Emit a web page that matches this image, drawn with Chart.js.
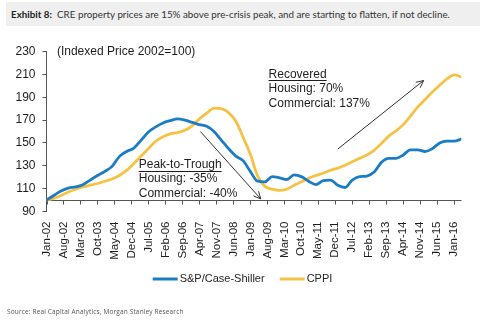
<!DOCTYPE html>
<html>
<head>
<meta charset="utf-8">
<script src="https://cdn.jsdelivr.net/npm/chart.js@4.4.0/dist/chart.umd.min.js"></script>
<style>
  html, body { margin: 0; padding: 0; background: #fff; }
  #wrap { position: relative; width: 488px; height: 321px; overflow: hidden; }
  canvas { position: absolute; left: 0; top: 0; }
  #banner {
    position: absolute; left: 6px; top: 2px; width: 474px; height: 24px;
    background: #efefef; color: #333; font: 9.8px Lato, sans-serif;
    line-height: 24px; padding-left: 5px; box-sizing: border-box; white-space: nowrap;
  }
  #banner b { color: #222; }
  #source {
    position: absolute; left: 7px; top: 307px; font: 6.5px "Open Sans", sans-serif;
    color: #555; letter-spacing: .15px; white-space: nowrap;
  }
</style>
</head>
<body>
<div id="wrap">
  <canvas id="chart" width="488" height="321"></canvas>
  <div id="banner"><b>Exhibit 8:</b>&nbsp; CRE property prices are 15% above pre-crisis peak, and are starting to flatten, if not decline.</div>
  <div id="source">Source: Real Capital Analytics, Morgan Stanley Research</div>
</div>
<script>
// quarterly readings, indexed 2002 = 100
const dates = [
  'Jan-02', 'Apr-02', 'Jul-02', 'Oct-02', 'Jan-03', 'Apr-03', 'Jul-03', 'Oct-03',
  'Jan-04', 'Apr-04', 'Jul-04', 'Oct-04', 'Jan-05', 'Apr-05', 'Jul-05', 'Oct-05',
  'Jan-06', 'Apr-06', 'Jul-06', 'Oct-06', 'Jan-07', 'Apr-07', 'Jul-07', 'Oct-07',
  'Jan-08', 'Apr-08', 'Jul-08', 'Oct-08', 'Jan-09', 'Apr-09', 'Jul-09', 'Oct-09',
  'Jan-10', 'Apr-10', 'Jul-10', 'Oct-10', 'Jan-11', 'Apr-11', 'Jul-11', 'Oct-11',
  'Jan-12', 'Apr-12', 'Jul-12', 'Oct-12', 'Jan-13', 'Apr-13', 'Jul-13', 'Oct-13',
  'Jan-14', 'Apr-14', 'Jul-14', 'Oct-14', 'Jan-15', 'Apr-15', 'Jul-15', 'Oct-15',
  'Jan-16', 'Apr-16'
];

const caseShiller = [
  100, 104, 108, 110.5, 111.5, 113.5, 117.5, 121.5,
  125, 129.5, 138, 142.5, 145.5, 152.5, 159.5, 164,
  167.5, 169.5, 171, 170, 168, 166, 164.5, 160,
  152.5, 145, 138.5, 134.5, 125, 116.5, 116, 120.5,
  119.5, 118, 122, 120.5, 116.5, 113.5, 117, 117.5,
  113, 111, 117.5, 120.5, 121, 124.5, 133, 136.5,
  136.5, 139.5, 144, 144, 142.5, 145, 150, 151.5,
  151.5, 153.5
];

const cppi = [
  100, 101.5, 104, 107, 109.5, 111.5, 113, 114.5,
  116.5, 118.5, 121.5, 126, 132, 138.5, 145, 151.5,
  155.5, 158, 159, 161, 165, 171, 176, 180.5,
  180, 176.5, 169, 155, 140, 121, 112, 109.5,
  108.5, 109.5, 113, 116, 119, 121.5, 123.5, 126,
  128, 130.5, 133.5, 136.5, 139.5, 143.5, 149.5, 156,
  160.5, 166, 173.5, 181.5, 188, 194.5, 200.5, 206,
  209.5, 207.5
];

const tickLabels = [
  'Jan-02', 'Aug-02', 'Mar-03', 'Oct-03', 'May-04', 'Dec-04', 'Jul-05', 'Feb-06',
  'Sep-06', 'Apr-07', 'Nov-07', 'Jun-08', 'Jan-09', 'Aug-09', 'Mar-10', 'Oct-10',
  'May-11', 'Dec-11', 'Jul-12', 'Feb-13', 'Sep-13', 'Apr-14', 'Nov-14', 'Jun-15',
  'Jan-16'
];

const monthNames = ['Jan', 'Feb', 'Mar', 'Apr', 'May', 'Jun', 'Jul', 'Aug', 'Sep', 'Oct', 'Nov', 'Dec'];

// 'Mon-YY' -> months since Jan-02
function monthIndex(label) {
  const [mon, yy] = label.split('-');
  return (Number(yy) - 2) * 12 + monthNames.indexOf(mon);
}

const BLUE = '#1a7cc4';
const YELLOW = '#f6c244';
const AXIS = '#555';
const TEXT = '#1e1e1e';
const FONT = '"Liberation Sans", Arial, sans-serif';
const baseValue = 100;

// callout text and arrows, in (month, index) coordinates
const notes = [
  { x: 38, y: 131, lines: ['Peak-to-Trough', 'Housing: -35%', 'Commercial: -40%'] },
  { x: 91.5, y: 210, lines: ['Recovered', 'Housing: 70%', 'Commercial: 137%'] }
];
const arrows = [
  { from: [63.4, 160], to: [88.3, 101] },
  { from: [120, 144.6], to: [155.4, 204.6] }
];

// legend row: centre x, centre y
const legendPos = { cx: 242.5, cy: 279 };

function series(values) {
  return values.map((v, i) => ({ x: monthIndex(dates[i]), y: v }));
}

// x axis sits at 100 with small ticks under it; its labels hang below the plot
const axisAndNotes = {
  id: 'axisAndNotes',
  beforeDatasetsDraw(chart) {
    const { ctx, chartArea, scales: { x, y } } = chart;
    const y0 = Math.round(y.getPixelForValue(baseValue)) + 0.5;
    ctx.save();
    ctx.strokeStyle = AXIS;
    ctx.lineWidth = 1;
    ctx.beginPath();
    ctx.moveTo(chartArea.left, y0);
    ctx.lineTo(chartArea.right, y0);
    x.ticks.forEach(t => {
      const px = Math.round(x.getPixelForValue(t.value)) + 0.5;
      ctx.moveTo(px, y0);
      ctx.lineTo(px, y0 + 4);
    });
    ctx.stroke();

    ctx.fillStyle = TEXT;
    ctx.font = '11.5px ' + FONT;
    ctx.textAlign = 'right';
    ctx.textBaseline = 'middle';
    x.ticks.forEach((t, i) => {
      ctx.save();
      ctx.translate(x.getPixelForValue(t.value), chartArea.bottom + 10);
      ctx.rotate(-Math.PI / 2);
      ctx.fillText(tickLabels[i], 0, 0);
      ctx.restore();
    });
    ctx.restore();
  },
  afterDatasetsDraw(chart) {
    const { ctx, scales: { x, y } } = chart;
    ctx.save();
    ctx.fillStyle = TEXT;
    ctx.strokeStyle = TEXT;
    ctx.font = '12px ' + FONT;
    ctx.textBaseline = 'middle';
    notes.forEach(n => {
      const px = x.getPixelForValue(n.x);
      const py = y.getPixelForValue(n.y);
      n.lines.forEach((line, i) => {
        ctx.fillText(line, px, py + i * 14.5);
      });
      const w = ctx.measureText(n.lines[0]).width;
      ctx.lineWidth = 1;
      ctx.beginPath();
      ctx.moveTo(px, Math.round(py + 6) + 0.5);
      ctx.lineTo(px + w, Math.round(py + 6) + 0.5);
      ctx.stroke();
    });

    ctx.strokeStyle = '#333';
    ctx.lineWidth = 1;
    arrows.forEach(a => {
      const x1 = x.getPixelForValue(a.from[0]), y1 = y.getPixelForValue(a.from[1]);
      const x2 = x.getPixelForValue(a.to[0]), y2 = y.getPixelForValue(a.to[1]);
      const ang = Math.atan2(y2 - y1, x2 - x1);
      ctx.beginPath();
      ctx.moveTo(x1, y1);
      ctx.lineTo(x2, y2);
      [-0.45, 0.45].forEach(d => {
        ctx.moveTo(x2, y2);
        ctx.lineTo(x2 - 8 * Math.cos(ang + d), y2 - 8 * Math.sin(ang + d));
      });
      ctx.stroke();
    });

    ctx.fillText('(Indexed Price 2002=100)', x.getPixelForValue(4.3), y.getPixelForValue(230));

    // legend: short line sample + series name, one row
    ctx.font = '11px ' + FONT;
    const items = chart.data.datasets.map(ds => ({
      label: ds.label, color: ds.borderColor, w: 25 + 2 + ctx.measureText(ds.label).width
    }));
    const total = items.reduce((s, it) => s + it.w, 0) + 15 * (items.length - 1);
    let lx = legendPos.cx - total / 2;
    items.forEach(it => {
      ctx.strokeStyle = it.color;
      ctx.lineWidth = 3;
      ctx.beginPath();
      ctx.moveTo(lx, legendPos.cy);
      ctx.lineTo(lx + 25, legendPos.cy);
      ctx.stroke();
      ctx.fillStyle = TEXT;
      ctx.fillText(it.label, lx + 27, legendPos.cy);
      lx += it.w + 15;
    });
    ctx.restore();
  }
};

new Chart(document.getElementById('chart'), {
  type: 'line',
  data: {
    datasets: [
      {
        label: 'S&P/Case-Shiller',
        data: series(caseShiller),
        borderColor: BLUE,
        backgroundColor: BLUE,
        borderWidth: 2.8,
        pointRadius: 0,
        cubicInterpolationMode: 'monotone'
      },
      {
        label: 'CPPI',
        data: series(cppi),
        borderColor: YELLOW,
        backgroundColor: YELLOW,
        borderWidth: 2.8,
        pointRadius: 0,
        cubicInterpolationMode: 'monotone'
      }
    ]
  },
  options: {
    responsive: false,
    animation: false,
    layout: { padding: { top: 51.5, right: 26.5, left: 0, bottom: 59.5 } },
    plugins: {
      title: { display: false },
      tooltip: { enabled: false },
      legend: { display: false }
    },
    scales: {
      x: {
        type: 'linear',
        min: 0,
        max: 171,
        afterFit: s => { s.height = 50; },
        afterBuildTicks: s => { s.ticks = tickLabels.map(l => ({ value: monthIndex(l) })); },
        grid: { display: false },
        border: { display: false },
        ticks: { display: false, autoSkip: false }
      },
      y: {
        min: 90,
        max: 230,
        afterFit: s => { s.width = 46.5; },
        grid: { display: true, drawOnChartArea: false, drawTicks: true, tickLength: 4, color: AXIS },
        border: { display: true, color: AXIS },
        ticks: {
          stepSize: 20,
          padding: 7,
          color: TEXT,
          font: { family: FONT, size: 12 }
        }
      }
    }
  },
  plugins: [axisAndNotes]
});
</script>
</body>
</html>
